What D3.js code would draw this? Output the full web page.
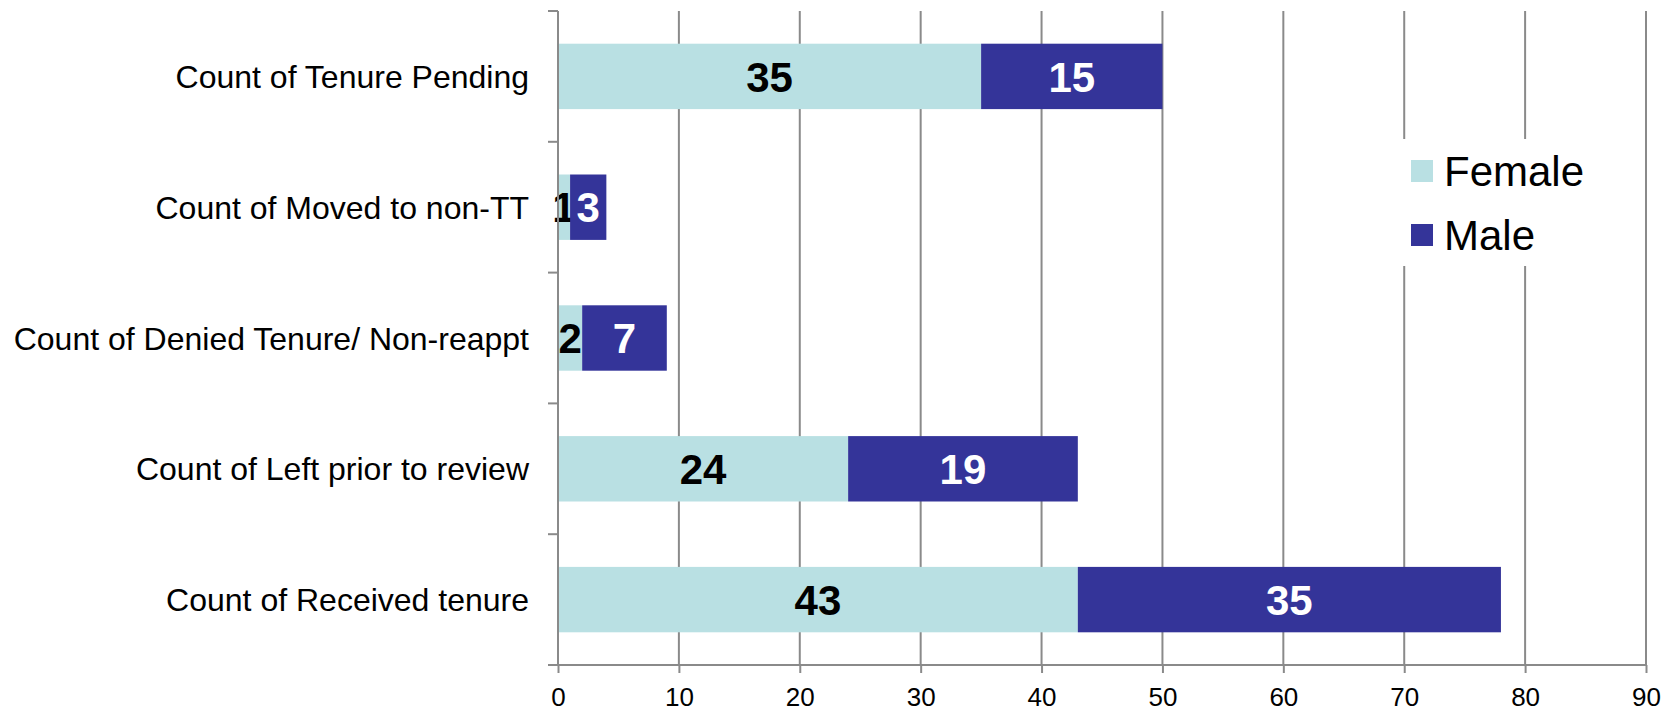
<!DOCTYPE html>
<html>
<head>
<meta charset="utf-8">
<script src="https://cdn.jsdelivr.net/npm/d3@7"></script>
<style>
  body { margin: 0; background: #fff; }
  text { font-family: "Liberation Sans", Arial, sans-serif; }
</style>
</head>
<body>
<script>
// data
var categories = ["Count of Tenure Pending", "Count of Moved to non-TT", "Count of Denied Tenure/ Non-reappt", "Count of Left prior to review", "Count of Received tenure"];
var female = [35, 1, 2, 24, 43];
var male = [15, 3, 7, 19, 35];
var seriesNames = ["Female", "Male"];
var xTicks = [0, 10, 20, 30, 40, 50, 60, 70, 80, 90];

var width = 1669,
    height = 711;
var colors = { Female: "#b9e0e3", Male: "#343499" };
var gridColor = "#8a8a8a";

var svg = d3.select("body")
    .append("svg")
    .attr("width", width)
    .attr("height", height);

var x = d3.scaleLinear().domain([0, 90]).range([558, 1646]);
var y = d3.scaleBand().domain(categories).range([11, 665])
    .paddingInner(0.5).paddingOuter(0.25);

// vertical gridlines
svg.append("g").selectAll("line")
    .data(xTicks.slice(1))
    .enter().append("line")
    .attr("x1", function (d) { return x(d); })
    .attr("x2", function (d) { return x(d); })
    .attr("y1", 11).attr("y2", 665)
    .attr("stroke", gridColor).attr("stroke-width", 2);

// stacked bars
var rows = categories.map(function (c, i) { return { cat: c, Female: female[i], Male: male[i] }; });
var stack = d3.stack().keys(seriesNames)(rows);

var layers = svg.append("g").selectAll("g")
    .data(stack)
    .enter().append("g")
    .attr("fill", function (d) { return colors[d.key]; });

layers.selectAll("rect")
    .data(function (d) { return d; })
    .enter().append("rect")
    .attr("x", function (d) { return x(d[0]); })
    .attr("width", function (d) { return x(d[1]) - x(d[0]); })
    .attr("y", function (d) { return y(d.data.cat); })
    .attr("height", y.bandwidth());

// value labels
layers.selectAll("text")
    .data(function (d) { return d.map(function (v) { v.key = d.key; return v; }); })
    .enter().append("text")
    .attr("x", function (d) { return (x(d[0]) + x(d[1])) / 2; })
    .attr("y", function (d) { return y(d.data.cat) + y.bandwidth() / 2; })
    .attr("dy", "0.36em")
    .attr("text-anchor", "middle")
    .attr("font-size", 42)
    .attr("font-weight", "bold")
    .attr("fill", function (d) { return d.key == "Male" ? "#fff" : "#000"; })
    .text(function (d) { return d[1] - d[0]; });

// y axis (line + boundary ticks)
var bounds = d3.range(categories.length + 1).map(function (i) { return 11 + i * (654 / categories.length); });
var yAxis = svg.append("g");
yAxis.append("line")
    .attr("x1", x(0)).attr("x2", x(0))
    .attr("y1", 11).attr("y2", 665)
    .attr("stroke", gridColor).attr("stroke-width", 2);
yAxis.selectAll(".tick")
    .data(bounds)
    .enter().append("line")
    .attr("x1", x(0) - 10).attr("x2", x(0))
    .attr("y1", function (d) { return d; })
    .attr("y2", function (d) { return d; })
    .attr("stroke", gridColor).attr("stroke-width", 2);
yAxis.selectAll("text")
    .data(categories)
    .enter().append("text")
    .attr("x", 529)
    .attr("y", function (d) { return y(d) + y.bandwidth() / 2; })
    .attr("dy", "0.36em")
    .attr("text-anchor", "end")
    .attr("font-size", 32)
    .attr("fill", "#000")
    .text(function (d) { return d; });

// x axis
var xAxis = svg.append("g")
    .attr("transform", "translate(0,665)")
    .call(d3.axisBottom(x).tickValues(xTicks).tickSize(8).tickPadding(15).tickSizeOuter(0));
xAxis.select(".domain").remove();
xAxis.append("line")
    .attr("x1", x(0) - 10).attr("x2", x(90))
    .attr("stroke", gridColor).attr("stroke-width", 2);
xAxis.selectAll(".tick line").attr("stroke", gridColor).attr("stroke-width", 2);
xAxis.selectAll(".tick text")
    .attr("font-size", 26)
    .attr("font-family", "Liberation Sans, Arial, sans-serif")
    .attr("fill", "#000");

// legend
var legend = svg.append("g");
legend.append("rect")
    .attr("x", 1395).attr("y", 139)
    .attr("width", 245).attr("height", 127)
    .attr("fill", "#fff");
var items = legend.selectAll(".item")
    .data(seriesNames)
    .enter().append("g")
    .attr("transform", function (d, i) { return "translate(1411," + (160 + i * 64) + ")"; });
items.append("rect")
    .attr("width", 22).attr("height", 22)
    .attr("fill", function (d) { return colors[d]; });
items.append("text")
    .attr("x", 33)
    .attr("y", 11)
    .attr("dy", "0.36em")
    .attr("font-size", 42)
    .attr("fill", "#000")
    .text(function (d) { return d; });
</script>
</body>
</html>
